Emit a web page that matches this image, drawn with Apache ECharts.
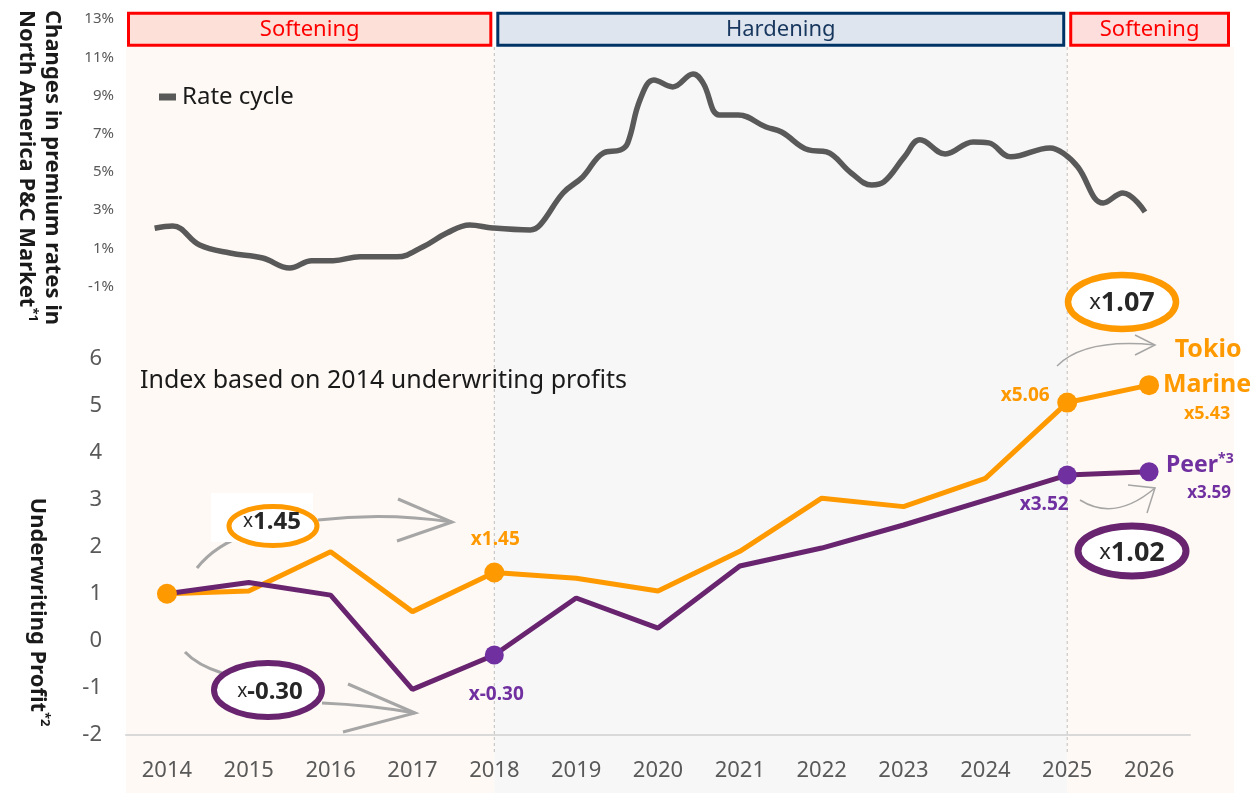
<!DOCTYPE html>
<html>
<head>
<meta charset="utf-8">
<title>Underwriting profit vs rate cycle</title>
<script src="https://cdn.jsdelivr.net/npm/echarts@6/dist/echarts.min.js"></script>
<style>
html, body { margin: 0; padding: 0; background: #fff; }
#chart { width: 1256px; height: 793px; }
</style>
</head>
<body>
<div id="chart"></div>
<script>
// 数据
var years = ['2014', '2015', '2016', '2017', '2018', '2019', '2020', '2021', '2022', '2023', '2024', '2025', '2026'];
var tokioValues = [1.00, 1.06, 1.89, 0.62, 1.45, 1.33, 1.06, 1.90, 3.03, 2.85, 3.45, 5.06, 5.43];
var peerValues = [1.00, 1.24, 0.97, -1.03, -0.30, 0.91, 0.27, 1.59, 1.97, 2.46, 2.99, 3.52, 3.59];
var tokioDotIdx = [0, 4, 11, 12];
var peerDotIdx = [4, 11, 12];

// rate cycle (x = fractional year)
var rateYears = [2013.85, 2014.07, 2014.40, 2014.77, 2015.17, 2015.50, 2015.77, 2016.03, 2016.36, 2016.81,
    2017.13, 2017.42, 2017.70, 2017.98, 2018.44, 2018.56, 2018.84, 2019.08, 2019.33, 2019.54,
    2019.63, 2019.78, 2019.95, 2020.18, 2020.43, 2020.55, 2020.75, 2020.98, 2021.32, 2021.51,
    2021.84, 2022.06, 2022.36, 2022.61, 2022.76, 2023.01, 2023.20, 2023.51, 2023.85, 2024.04,
    2024.31, 2024.79, 2024.98, 2025.13, 2025.44, 2025.68, 2025.95];
var rateValues = [2.06, 2.18, 1.18, 0.76, 0.50, -0.02, 0.36, 0.36, 0.57, 0.56,
    1.09, 1.81, 2.23, 2.07, 1.97, 2.23, 3.90, 4.74, 5.99, 6.15,
    6.52, 8.77, 9.81, 9.45, 10.13, 9.66, 7.98, 7.98, 7.35, 7.09,
    6.15, 6.05, 4.95, 4.32, 4.48, 5.79, 6.68, 5.94, 6.57, 6.52,
    5.79, 6.26, 5.89, 5.26, 3.38, 3.90, 2.91];

var rateAxis = [-1, 13, 2];
var profitAxis = [-2, 6, 1];
var phaseNames = ['Softening', 'Hardening', 'Softening'];
var phaseBreaks = ['2018', '2025'];
var ratioNotes = ['x1.45', 'x-0.30', 'x1.07', 'x1.02'];

var FONT = '"Noto Sans", "Open Sans", sans-serif';
var ORANGE = '#FF9900', PURPLE_LINE = '#68246F', PURPLE = '#7030A0', GREY = '#A6A6A6';
var GRID_L = 126, GRID_R = 66;

function pairs(idx, vals) {
    return idx.map(function (i) { return [i, vals[i]]; });
}

var option = {
    animation: false,
    backgroundColor: '#fff',
    textStyle: { fontFamily: FONT },
    legend: {
        data: ['Rate cycle'],
        left: 154,
        top: 80,
        icon: 'rect',
        itemWidth: 17,
        itemHeight: 7,
        textStyle: { fontSize: 24, color: '#1a1a1a', padding: [0, 0, 0, 1] }
    },
    grid: [
        { left: GRID_L, right: GRID_R, top: 19, height: 267.7 },
        { left: GRID_L, right: GRID_R, top: 358.3, height: 376.7 }
    ],
    xAxis: [
        { gridIndex: 0, type: 'value', min: 2013.5, max: 2026.5, show: false },
        {
            gridIndex: 1,
            type: 'category',
            data: years,
            boundaryGap: true,
            axisLine: { onZero: false, lineStyle: { color: '#D9D9D9', width: 2 } },
            axisTick: { show: false },
            axisLabel: { fontSize: 22, color: '#595959', margin: 25 }
        }
    ],
    yAxis: [
        {
            gridIndex: 0,
            type: 'value',
            min: rateAxis[0],
            max: rateAxis[1],
            interval: rateAxis[2],
            splitLine: { show: false },
            axisLine: { show: false },
            axisTick: { show: false },
            axisLabel: { formatter: '{value}%', fontSize: 15, color: '#595959', margin: 12 }
        },
        {
            gridIndex: 1,
            type: 'value',
            min: profitAxis[0],
            max: profitAxis[1],
            interval: profitAxis[2],
            splitLine: { show: false },
            axisLine: { show: false },
            axisTick: { show: false },
            axisLabel: { fontSize: 22, color: '#595959', margin: 24 }
        }
    ],
    series: [
        {
            name: 'Rate cycle',
            type: 'line',
            xAxisIndex: 0,
            yAxisIndex: 0,
            smooth: 0.4,
            symbol: 'none',
            color: '#595959',
            lineStyle: { color: '#595959', width: 5.5 },
            data: rateYears.map(function (y, i) { return [y, rateValues[i]]; })
        },
        {
            name: 'Tokio Marine',
            type: 'line',
            xAxisIndex: 1,
            yAxisIndex: 1,
            symbol: 'none',
            lineStyle: { color: ORANGE, width: 5 },
            data: tokioValues
        },
        {
            name: 'Peer',
            type: 'line',
            xAxisIndex: 1,
            yAxisIndex: 1,
            symbol: 'none',
            lineStyle: { color: PURPLE_LINE, width: 5 },
            data: peerValues
        },
        {
            name: 'Peer dots',
            type: 'scatter',
            xAxisIndex: 1,
            yAxisIndex: 1,
            z: 3,
            symbolSize: 19,
            itemStyle: { color: PURPLE, opacity: 1 },
            data: pairs(peerDotIdx, peerValues)
        },
        {
            name: 'Tokio dots',
            type: 'scatter',
            xAxisIndex: 1,
            yAxisIndex: 1,
            z: 4,
            symbolSize: 20,
            itemStyle: { color: ORANGE, opacity: 1 },
            data: pairs(tokioDotIdx, tokioValues)
        }
    ]
};

var chart = echarts.init(document.getElementById('chart'));
chart.setOption(option);

// ---------- 装饰 (背景、标题、注释) ----------
function txt(x, y, text, opt) {
    var s = {
        text: text,
        fill: opt.fill || '#1a1a1a',
        font: (opt.weight || 'normal') + ' ' + (opt.size || 18) + 'px ' + FONT,
        textAlign: opt.align || 'center',
        textVerticalAlign: 'middle',
        align: opt.align || 'center',
        verticalAlign: 'middle'
    };
    if (opt.rich) s.rich = opt.rich;
    return { type: 'text', x: x, y: y, rotation: opt.rotation || 0, z: opt.z || 30, silent: true, style: s };
}
// rich 片段样式 (zrender 用 fill)
function tok(size, bold, color, sup, lh) {
    var t = { fontSize: size, fontWeight: bold ? 'bold' : 'normal', fontFamily: FONT, fill: color, color: color };
    if (sup) t.verticalAlign = 'top';
    if (lh) t.lineHeight = lh;
    return t;
}
function curve(x1, y1, cx, cy, x2, y2, lw) {
    return { type: 'bezierCurve', z: 18, silent: true,
        shape: { x1: x1, y1: y1, cpx1: cx, cpy1: cy, x2: x2, y2: y2 },
        style: { stroke: GREY, lineWidth: lw, fill: 'none' } };
}
function chevron(pts, lw) {
    return { type: 'polyline', z: 18, silent: true, shape: { points: pts },
        style: { stroke: GREY, lineWidth: lw, fill: 'none' } };
}
function ring(cx, cy, rx, ry, color, lw) {
    return { type: 'ellipse', z: 20, silent: true, shape: { cx: cx, cy: cy, rx: rx, ry: ry },
        style: { fill: '#fff', stroke: color, lineWidth: lw } };
}
function noteText(x, y, note, size) {
    return txt(x, y, '{x|x}{v|' + note.slice(1) + '}', {
        rich: { x: tok(size - 5, false, '#262626'), v: tok(size, true, '#262626') }
    });
}
function dot(si, i, v) {
    return chart.convertToPixel({ seriesIndex: si }, [i, v]);
}

var g = [];
var x18 = chart.convertToPixel({ xAxisIndex: 1 }, phaseBreaks[0]);
var x25 = chart.convertToPixel({ xAxisIndex: 1 }, phaseBreaks[1]);
var xL = GRID_L, xR = 1256 - GRID_R + 44;
var bands = [[xL, x18], [x18, x25], [x25, xR]];
var bandFill = ['#FEF9F4', '#F7F7F7', '#FEF9F4'];
var boxFill = ['#FDE1D9', '#DFE5EE', '#FDDEDC'];
var boxStroke = ['#FF0000', '#003366', '#FF0000'];
var boxText = ['#FF0000', '#17375E', '#FF0000'];

bands.forEach(function (b, k) {
    g.push({ type: 'rect', z: -10, silent: true,
        shape: { x: b[0], y: 47, width: b[1] - b[0], height: 746 },
        style: { fill: bandFill[k] } });
    var bx0 = b[0] + (k === 0 ? 1 : 2), bx1 = b[1] - (k === 2 ? 4 : 2);
    g.push({ type: 'rect', z: 5, silent: true,
        shape: { x: bx0 + 1.5, y: 13.2, width: bx1 - bx0 - 3, height: 32 },
        style: { fill: boxFill[k], stroke: boxStroke[k], lineWidth: 3 } });
    g.push(txt((bx0 + bx1) / 2, 29.5, phaseNames[k], { size: 22, fill: boxText[k], z: 6 }));
});
[x18, x25].forEach(function (x) {
    g.push({ type: 'line', z: -5, silent: true,
        shape: { x1: x, y1: 47, x2: x, y2: 752 },
        style: { stroke: '#BFBFBF', lineWidth: 1, lineDash: [3, 3] } });
});

// 轴标题
g.push(txt(39, 10, '{b|Changes in premium rates in}\n{b|North America P&C Market}{s|*1}', {
    align: 'left', rotation: -Math.PI / 2,
    rich: { b: tok(22, true, '#1a1a1a', false, 26), s: tok(13, true, '#1a1a1a', true, 26) }
}));
g.push(txt(37, 612, '{b|Underwriting Profit}{s|*2}', {
    rotation: -Math.PI / 2,
    rich: { b: tok(22, true, '#1a1a1a', false, 28), s: tok(13, true, '#1a1a1a', true, 28) }
}));
g.push(txt(140, 381, 'Index based on 2014 underwriting profits', { align: 'left', size: 25 }));

// 注释箭头与椭圆
g.push(curve(197, 568, 215, 545, 250, 533, 3));
g.push(curve(318, 520, 385, 512, 452, 522, 3));
g.push(chevron([[398, 499], [452, 522], [397, 541]], 3));
g.push({ type: 'rect', z: 19, silent: true, shape: { x: 211, y: 493, width: 102, height: 49 }, style: { fill: '#fff' } });
g.push(ring(273, 526, 44, 19.5, ORANGE, 5));
g.push(noteText(272, 522, ratioNotes[0], 24));

g.push(curve(185, 652, 197, 665, 222, 673, 3));
g.push(curve(322, 703, 370, 705, 415, 713, 3));
g.push(chevron([[348, 684], [415, 713], [343, 732]], 3));
g.push(ring(268, 690, 54, 27, PURPLE_LINE, 6));
g.push(noteText(270, 692, ratioNotes[1], 24));

g.push(curve(1057, 366, 1085, 338, 1155, 345, 1.5));
g.push(chevron([[1135, 335], [1155, 345], [1135, 355]], 1.5));
g.push(ring(1122, 302, 54, 27, ORANGE, 6.5));
g.push(noteText(1122, 303, ratioNotes[2], 27));

g.push(curve(1080, 500, 1115, 522, 1155, 488, 1.5));
g.push(chevron([[1128, 485], [1155, 488], [1147, 513]], 1.5));
g.push(ring(1132, 551, 54, 25, PURPLE_LINE, 7));
g.push(noteText(1132, 553, ratioNotes[3], 27));

// 数据标签
function fmt(v) { return 'x' + v.toFixed(2); }
var o18 = dot(4, 4, tokioValues[4]);
var o25 = dot(4, 11, tokioValues[11]);
var o26 = dot(4, 12, tokioValues[12]);
var p18 = dot(3, 4, peerValues[4]);
var p25 = dot(3, 11, peerValues[11]);
var p26 = dot(3, 12, peerValues[12]);
g.push(txt(o18[0] + 1, o18[1] - 33, fmt(tokioValues[4]), { size: 19, weight: 'bold', fill: ORANGE }));
g.push(txt(p18[0] + 2, p18[1] + 40, fmt(peerValues[4]), { size: 19, weight: 'bold', fill: PURPLE }));
g.push(txt(o25[0] - 42, o25[1] - 7, fmt(tokioValues[11]), { size: 19, weight: 'bold', fill: ORANGE }));
g.push(txt(p25[0] - 23, p25[1] + 30, fmt(peerValues[11]), { size: 19, weight: 'bold', fill: PURPLE }));
g.push(txt(o26[0] + 59, o26[1] - 35, 'Tokio', { size: 25, weight: 'bold', fill: ORANGE }));
g.push(txt(o26[0] + 58, o26[1], 'Marine', { size: 25, weight: 'bold', fill: ORANGE }));
g.push(txt(o26[0] + 58, o26[1] + 29, fmt(tokioValues[12]), { size: 18, weight: 'bold', fill: ORANGE }));
g.push(txt(p26[0] + 17, p26[1] - 6, '{b|Peer}{s|*3}', {
    align: 'left',
    rich: { b: tok(23, true, PURPLE, false, 28), s: tok(14, true, PURPLE, true, 28) }
}));
g.push(txt(p26[0] + 60, p26[1] + 21, fmt(peerValues[12]), { size: 17, weight: 'bold', fill: PURPLE }));

chart.setOption({ graphic: g });
</script>
</body>
</html>
